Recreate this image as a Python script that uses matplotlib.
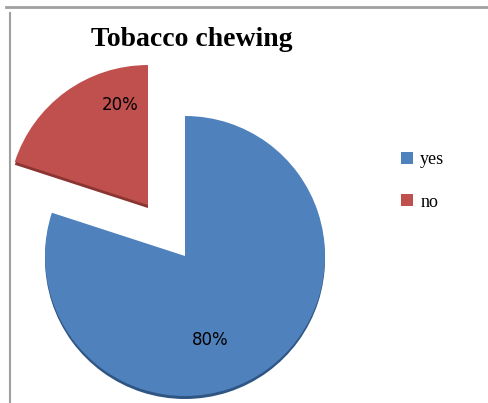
import matplotlib.pyplot as plt
from matplotlib.lines import Line2D
import numpy as np

# data
labels = ['yes', 'no']
values = [80, 20]
colors = ['#4F81BD', '#C0504D']
dark = ['#2F5583', '#8A3532']

W, H = 489, 403
fig = plt.figure(figsize=(W / 100, H / 100), dpi=100)
ax = fig.add_axes([0, 0, 1, 1])
ax.set_xlim(0, W)
ax.set_ylim(0, H)
ax.set_aspect('equal')
ax.axis('off')

cx, cy, r = 185, H - 256, 140
expl = [0, 63]

# dark rim underneath for the 3d look
ax.pie(values, colors=dark, startangle=90, counterclock=False,
       center=(cx, cy - 3), radius=r, explode=expl, frame=True,
       wedgeprops=dict(linewidth=0))
wedges, texts, autos = ax.pie(values, colors=colors, startangle=90,
                              counterclock=False, center=(cx, cy), radius=r,
                              explode=expl, frame=True, autopct='%d%%',
                              wedgeprops=dict(linewidth=0),
                              textprops=dict(fontsize=12, family='DejaVu Sans'))
ax.set_xlim(0, W)
ax.set_ylim(0, H)
ax.axis('off')

# label positions as in the original (Excel style)
autos[0].set_position((cx + 25, cy - 84))
autos[1].set_position((cx - 65, cy + 151))

fig.text(192 / W, 1 - 40 / H, 'Tobacco chewing', ha='center', va='center',
         fontsize=20, fontweight='bold', family='Liberation Serif')

ax.legend(wedges, labels, loc='upper left', bbox_to_anchor=(385 / W, 1 - 135 / H),
          frameon=False, handlelength=0.65, handleheight=0.65, handletextpad=0.4,
          labelspacing=1.4, prop=dict(family='Liberation Serif', size=13))

# frame lines
fig.add_artist(Line2D([6 / W, 1], [1 - 6.5 / H, 1 - 6.5 / H], color='#A0A0A0', lw=2))
fig.add_artist(Line2D([9.5 / W, 9.5 / W], [0, 1 - 13 / H], color='#A0A0A0', lw=1.5))

fig.savefig('out.png', dpi=100)
